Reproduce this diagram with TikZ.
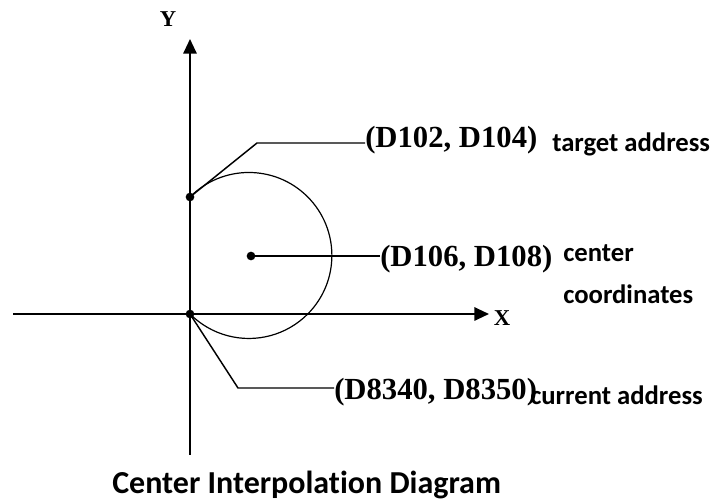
\documentclass[tikz,border=0pt]{standalone}
\usepackage{fontspec}
\setmainfont{Carlito}[Ligatures=NoCommon]
\newfontfamily\codefont{Liberation Serif}
\usetikzlibrary{arrows.meta}
\tikzset{
  axisline/.style={line width=1.5pt,-{Triangle[length=11pt,width=10pt]}},
  leadline/.style={line width=1.1pt},
  arcline/.style={line width=0.9pt},
  dotnode/.style={circle,fill=black,inner sep=0pt,minimum size=6.5pt},
  codelabel/.style={font=\codefont\bfseries\fontsize{23pt}{25pt}\selectfont,inner sep=0pt,anchor=base west},
  textlabel/.style={font=\bfseries\fontsize{20pt}{22pt}\selectfont,inner sep=0pt,anchor=base west},
  axislabel/.style={font=\codefont\bfseries\fontsize{17pt}{19pt}\selectfont,inner sep=0pt}
}
\begin{document}
\begin{tikzpicture}[x=0.75pt,y=-0.75pt]
\useasboundingbox (0,0) rectangle (719,502);
\fill[white] (0,0) rectangle (719,502);
% axes
\coordinate (xl) at (13,314);
\coordinate (xr) at (489,314);
\coordinate (yb) at (190,455);
\coordinate (yt) at (190,39);
\draw[axisline] (xl) -- (xr);
\draw[axisline] (yb) -- (yt);
\node[axislabel] (xlab) at (502,318) {X};
\node[axislabel] (ylab) at (168,19) {Y};
% points
\node[dotnode] (tgt) at (190,197) {};
\node[dotnode] (org) at (190,314) {};
\node[dotnode] (ctr) at (251,256) {};
% arc of circle through the target and the origin
\draw[arcline] (tgt.center) arc[start angle=-135.2, end angle=135.2, radius=83];
% labels
\node[codelabel] (ltgt) at (365,148) {(D102, D104)};
\node[textlabel] (ttgt) at (552,152) {target address};
\node[codelabel] (lctr) at (380,267) {(D106, D108)};
\node[textlabel] (tctr1) at (563,262) {center};
\node[textlabel] (tctr2) at (563,304) {coordinates};
\node[codelabel] (lorg) at (334,400) {(D8340, D8350)};
\node[textlabel] (torg) at (530,405) {current address};
\node[font=\bfseries\fontsize{24pt}{26pt}\selectfont,inner sep=0pt,anchor=base west] (title) at (112,494) {Center Interpolation Diagram};
% leaders
\coordinate (e1) at (257,143);
\coordinate (e3) at (238,388);
\draw[leadline] (tgt.center) -- (e1) -- (ltgt.west |- e1);
\draw[leadline] (ctr.center) -- (lctr.west |- ctr);
\draw[leadline] (org.center) -- (e3) -- (lorg.west |- e3);
\end{tikzpicture}
\end{document}
